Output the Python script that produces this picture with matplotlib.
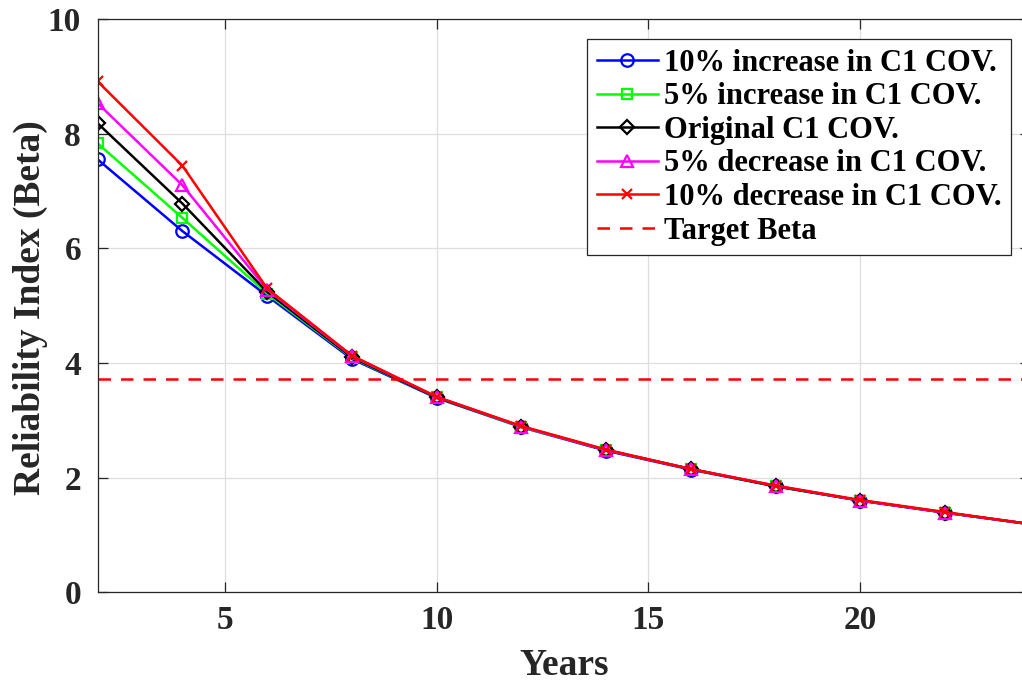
import numpy as np
import matplotlib
matplotlib.use("Agg")
import matplotlib.pyplot as plt

plt.rcParams['font.family'] = ['Liberation Serif', 'DejaVu Serif']
plt.rcParams['font.weight'] = 'bold'

years = [2, 4, 6, 8, 10, 12, 14, 16, 18, 20, 22, 24]

beta_inc10 = [7.55, 6.30, 5.17, 4.07, 3.39, 2.88, 2.47, 2.14, 1.85, 1.60, 1.39, 1.19]
beta_inc5 = [7.83, 6.53, 5.21, 4.09, 3.40, 2.88, 2.48, 2.15, 1.85, 1.60, 1.39, 1.19]
beta_orig = [8.18, 6.78, 5.24, 4.10, 3.40, 2.89, 2.48, 2.15, 1.85, 1.60, 1.39, 1.19]
beta_dec5 = [8.53, 7.10, 5.28, 4.12, 3.41, 2.89, 2.48, 2.15, 1.86, 1.60, 1.39, 1.19]
beta_dec10 = [8.91, 7.44, 5.30, 4.13, 3.41, 2.90, 2.49, 2.15, 1.86, 1.61, 1.40, 1.19]
target_beta = 3.72

labels = ['10% increase in C1 COV.', '5% increase in C1 COV.', 'Original C1 COV.',
          '5% decrease in C1 COV.', '10% decrease in C1 COV.']
series = [beta_inc10, beta_inc5, beta_orig, beta_dec5, beta_dec10]
colors = ['#0000ff', '#00ff00', '#000000', '#ff00ff', '#ff0000']
markers = ['o', 's', 'D', '^', 'x']
msizes = [9, 7.5, 7, 9, 7]

fig = plt.figure(figsize=(10.22, 6.86), dpi=100)
ax = fig.add_axes([0.0956, 0.1366, 0.912, 0.8357])

for y, lab, c, m, ms in zip(series, labels, colors, markers, msizes):
    ax.plot(years, y, color=c, marker=m, markersize=ms, markerfacecolor='none',
            markeredgewidth=1.6, linewidth=1.8, label=lab)
ax.axhline(target_beta, color='#ff0000', linestyle='--', linewidth=1.8,
           dashes=(5, 4), label='Target Beta')

ax.set_xlim(2, 24)
ax.set_ylim(0, 10)
ax.set_xticks([5, 10, 15, 20])
ax.set_yticks([0, 2, 4, 6, 8, 10])
ax.grid(True, color='#dedede', linewidth=0.9)
ax.set_axisbelow(True)
for s in ax.spines.values():
    s.set_color('#262626')
    s.set_linewidth(0.9)
ax.tick_params(direction='in', length=7, width=0.9, colors='#262626',
               labelsize=24, top=True, right=True)
ax.tick_params(axis='x', pad=9)
ax.tick_params(axis='y', pad=12)
for t in ax.get_xticklabels() + ax.get_yticklabels():
    t.set_fontweight('bold')

ax.set_xlabel('Years', fontsize=27, fontweight='bold', color='#262626', labelpad=9)
# y label placed by hand so it stays inside the figure
fig.text(30 / 1022, 1 - 308 / 686, 'Reliability Index (Beta)', rotation=90,
         ha='center', va='center', fontsize=27, fontweight='bold', color='#262626')

leg = ax.legend(loc='upper right', bbox_to_anchor=(0.986, 0.975),
                prop={'weight': 'bold', 'size': 22}, handlelength=2.0,
                handletextpad=0.2, labelspacing=0.15, borderpad=0.3,
                borderaxespad=0.2, fancybox=False, framealpha=1)
leg.get_frame().set_edgecolor('#262626')
leg.get_frame().set_linewidth(0.9)

fig.savefig('out.png', dpi=100)
